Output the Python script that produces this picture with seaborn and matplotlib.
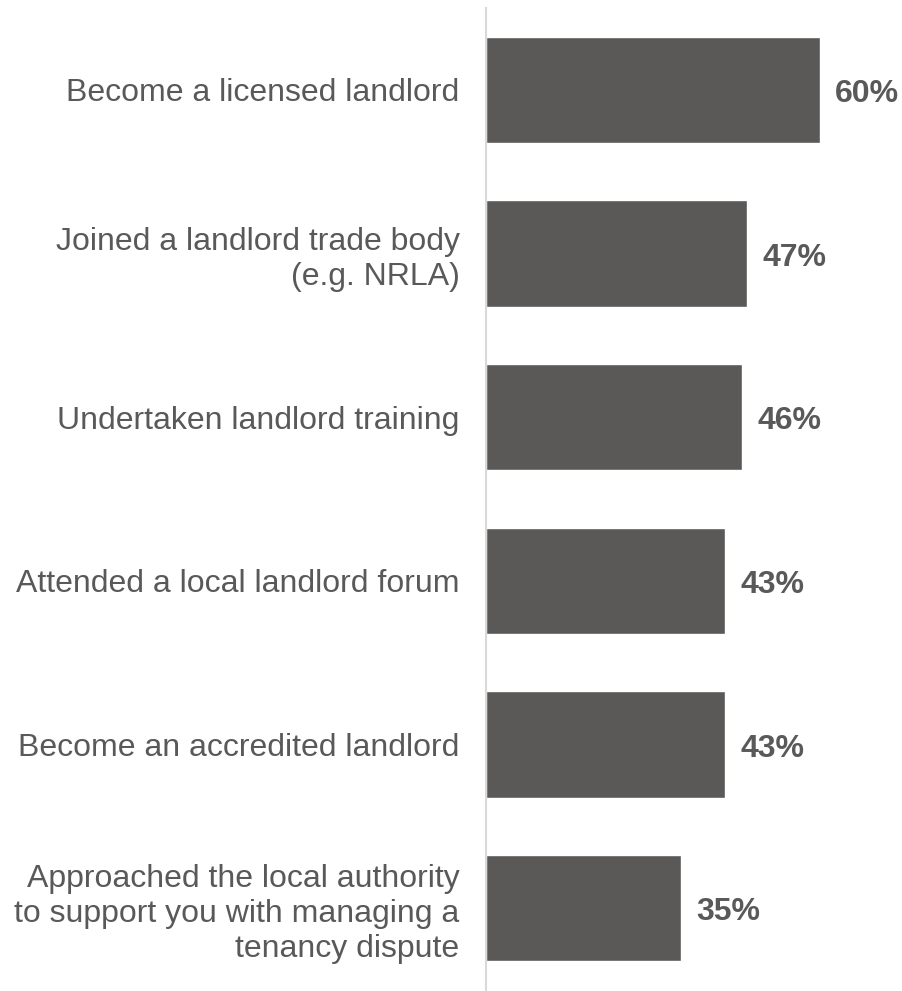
import pandas as pd
import seaborn as sns
import matplotlib.pyplot as plt

# survey responses
actions = ['Become a licensed landlord',
           'Joined a landlord trade body\n(e.g. NRLA)',
           'Undertaken landlord training',
           'Attended a local landlord forum',
           'Become an accredited landlord',
           'Approached the local authority\nto support you with managing a\ntenancy dispute']
shares = [60, 47, 46, 43, 43, 35]

df = pd.DataFrame({'action': actions, 'share': shares})

sns.set_style('white')
plt.rcParams['font.family'] = ['Liberation Sans', 'DejaVu Sans']

fig = plt.figure(figsize=(9.02, 9.91), dpi=100)
ax = fig.add_axes([0.5388, 0.001, 0.4612, 0.991])

sns.barplot(data=df, x='share', y='action', orient='h', color='#5b5957',
            saturation=1, width=0.65, ax=ax)

ax.set_xlim(0, 74.8)
ax.set_xlabel('')
ax.set_ylabel('')
ax.set_xticks([])
ax.tick_params(axis='y', length=0, pad=19)
for lbl in ax.get_yticklabels():
    lbl.set_fontsize(23)
    lbl.set_color('#595959')
    lbl.set_linespacing(1.22)
    lbl.set_horizontalalignment('right')
    lbl.set_multialignment('right')

for s in ['top', 'right', 'bottom']:
    ax.spines[s].set_visible(False)
ax.spines['left'].set_color('#d9d9d9')
ax.spines['left'].set_linewidth(1.5)

for i, v in enumerate(shares):
    ax.annotate(f'{v}%', xy=(v, i), xytext=(11, -3), textcoords='offset points',
                va='center', ha='left', fontsize=23, fontweight='bold',
                color='#595959')

fig.savefig('out.png', dpi=100)
